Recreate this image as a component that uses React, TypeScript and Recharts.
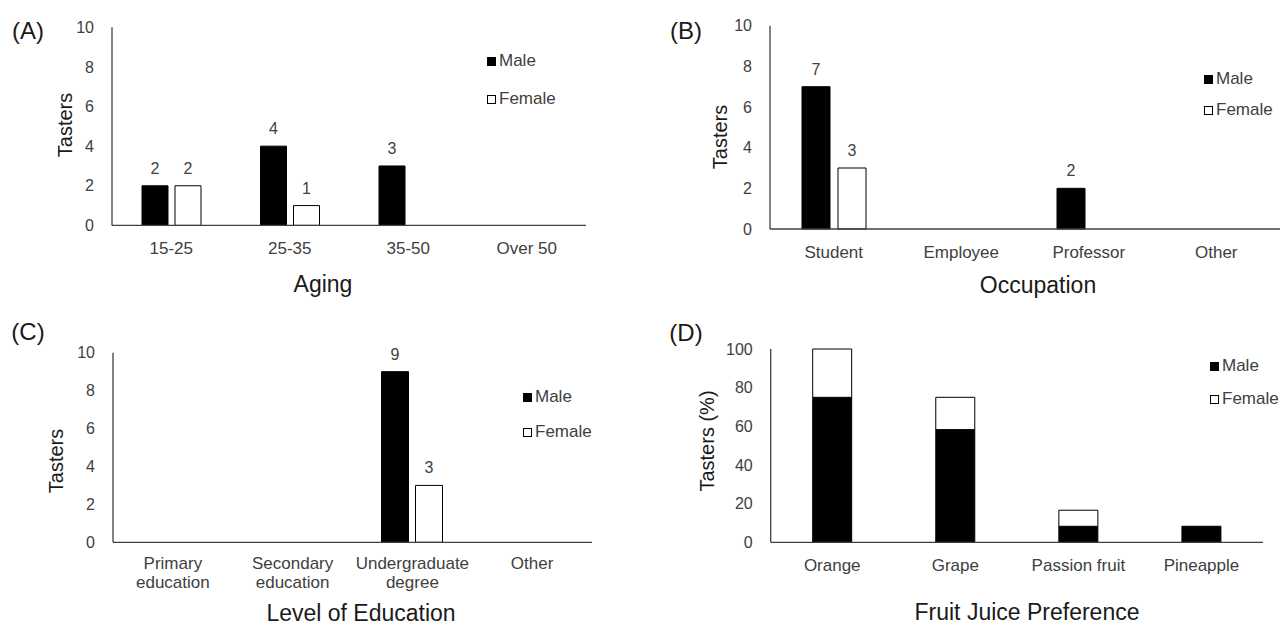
import { BarChart, Bar, XAxis, YAxis, LabelList, Legend } from "recharts";

// ---- data ----
const AGE_GROUPS = ["15-25", "25-35", "35-50", "Over 50"];
const AGE_MALE = [2, 4, 3, 0];
const AGE_FEMALE = [2, 1, 0, 0];

const OCCUPATIONS = ["Student", "Employee", "Professor", "Other"];
const OCC_MALE = [7, 0, 2, 0];
const OCC_FEMALE = [3, 0, 0, 0];

const EDUCATION = ["Primary education", "Secondary education", "Undergraduate degree", "Other"];
const EDU_MALE = [0, 0, 9, 0];
const EDU_FEMALE = [0, 0, 3, 0];

const JUICES = ["Orange", "Grape", "Passion fruit", "Pineapple"];
const JUICE_MALE = [75, 58.3, 8.3, 8.3];
const JUICE_FEMALE = [25, 16.7, 8.3, 0];

const COUNT_TICKS = [0, 2, 4, 6, 8, 10];
const PERCENT_TICKS = [0, 20, 40, 60, 80, 100];

const SERIES_ORDER = ["Male", "Female"];

const FONT = '"Liberation Sans", Arial, sans-serif';
const TICK = "#404040";
const INK = "#1a1a1a";
const AXIS = "#404040";

const toRows = (cats: string[], male: number[], female: number[]) =>
  cats.map((c, i) => ({ name: c, male: male[i], female: female[i] }));

const WrapTick = (props: any) => {
  const { x, y, payload, wrap } = props;
  const lines: string[] = wrap ? payload.value.split(" ") : [payload.value];
  return (
    <text x={x} y={y} textAnchor="middle" fontSize={17} fill={TICK}>
      {lines.map((l, i) => (
        <tspan key={i} x={x} dy={i === 0 ? "0.68em" : 19}>
          {l}
        </tspan>
      ))}
    </text>
  );
};

// value labels above bars, skipped for zero
const ValueLabel = (props: any) => {
  const { x, y, width, value } = props;
  if (!value) return null;
  return (
    <text x={x + width / 2} y={y - 12} textAnchor="middle" fontSize={16} fill={TICK}>
      {value}
    </text>
  );
};

const legendContent = (gap: number) => (props: any) => {
  const items = [...(props.payload || [])].sort(
    (a: any, b: any) => SERIES_ORDER.indexOf(a.value) - SERIES_ORDER.indexOf(b.value),
  );
  return (
    <div>
      {items.map((p: any, i: number) => (
        <div
          key={p.value}
          style={{ display: "flex", alignItems: "center", height: 18, marginTop: i ? gap - 18 : 0 }}
        >
          <span
            style={{
              width: 9,
              height: 9,
              boxSizing: "border-box",
              background: p.color,
              border: "1px solid #000",
              marginRight: 3,
            }}
          />
          <span style={{ fontSize: 17, color: TICK, lineHeight: "18px", whiteSpace: "nowrap" }}>
            {p.value}
          </span>
        </div>
      ))}
    </div>
  );
};

type PanelProps = {
  left: number;
  top: number;
  width: number;
  height: number;
  margin: { top: number; right: number; bottom: number; left: number };
  data: any[];
  ticks: number[];
  tickMargin: number;
  wrap?: boolean;
  stacked?: boolean;
  barSize: number;
  barGap?: number;
  legend: { left: number; top: number; gap: number };
};

function Panel(p: PanelProps) {
  return (
    <div style={{ position: "absolute", left: p.left, top: p.top }}>
      <BarChart width={p.width} height={p.height} data={p.data} margin={p.margin} barGap={p.barGap ?? 0}>
        <XAxis
          dataKey="name"
          interval={0}
          height={30}
          tickLine={false}
          tickSize={0}
          tickMargin={p.tickMargin}
          axisLine={{ stroke: AXIS, strokeWidth: 1.3 }}
          tick={<WrapTick wrap={p.wrap} />}
        />
        <YAxis
          width={40}
          domain={[p.ticks[0], p.ticks[p.ticks.length - 1]]}
          ticks={p.ticks}
          tickLine={false}
          tickSize={0}
          tickMargin={18}
          axisLine={{ stroke: AXIS, strokeWidth: 1.3 }}
          tick={{ fontSize: 16, fill: TICK }}
        />
        <Legend
          layout="horizontal"
          verticalAlign="middle"
          align="center"
          wrapperStyle={{ left: p.legend.left, top: p.legend.top, width: "auto" }}
          content={legendContent(p.legend.gap)}
        />
        <Bar
          dataKey="male"
          name="Male"
          fill="#000"
          stroke="#000"
          barSize={p.barSize}
          stackId={p.stacked ? "s" : undefined}
          isAnimationActive={false}
        >
          {!p.stacked && <LabelList dataKey="male" content={<ValueLabel />} />}
        </Bar>
        <Bar
          dataKey="female"
          name="Female"
          fill="#fff"
          stroke="#000"
          barSize={p.barSize}
          stackId={p.stacked ? "s" : undefined}
          isAnimationActive={false}
        >
          {!p.stacked && <LabelList dataKey="female" content={<ValueLabel />} />}
        </Bar>
      </BarChart>
    </div>
  );
}

const Txt = ({ x, y, size, rot, children }: any) => (
  <div
    style={{
      position: "absolute",
      left: x,
      top: y,
      fontSize: size,
      lineHeight: 1,
      color: INK,
      whiteSpace: "nowrap",
      transform: `translate(-50%, -50%)${rot ? " rotate(-90deg)" : ""}`,
    }}
  >
    {children}
  </div>
);

export default function App() {
  return (
    <div
      style={{
        position: "absolute",
        left: 0,
        top: 0,
        width: 1288,
        height: 627,
        overflow: "hidden",
        background: "#fff",
        fontFamily: FONT,
      }}
    >
      {/* (A) age */}
      <Panel
        left={0}
        top={0}
        width={640}
        height={310}
        margin={{ top: 27.3, right: 54, bottom: 54.6, left: 72 }}
        data={toRows(AGE_GROUPS, AGE_MALE, AGE_FEMALE)}
        ticks={COUNT_TICKS}
        tickMargin={17}
        barSize={26}
        barGap={7}
        legend={{ left: 487, top: 52, gap: 38 }}
      />
      {/* (B) occupation */}
      <Panel
        left={640}
        top={0}
        width={648}
        height={310}
        margin={{ top: 25.7, right: 8, bottom: 51, left: 90 }}
        data={toRows(OCCUPATIONS, OCC_MALE, OCC_FEMALE)}
        ticks={COUNT_TICKS}
        tickMargin={17}
        barSize={28}
        barGap={8}
        legend={{ left: 564, top: 70, gap: 31 }}
      />
      {/* (C) education */}
      <Panel
        left={0}
        top={310}
        width={640}
        height={317}
        margin={{ top: 42.7, right: 48, bottom: 54.7, left: 73 }}
        data={toRows(EDUCATION, EDU_MALE, EDU_FEMALE)}
        ticks={COUNT_TICKS}
        tickMargin={15}
        wrap
        barSize={27}
        barGap={7}
        legend={{ left: 523, top: 78, gap: 35 }}
      />
      {/* (D) juice preference, stacked % */}
      <Panel
        left={640}
        top={310}
        width={648}
        height={317}
        margin={{ top: 39, right: 25, bottom: 54.7, left: 90.7 }}
        data={toRows(JUICES, JUICE_MALE, JUICE_FEMALE)}
        ticks={PERCENT_TICKS}
        tickMargin={17}
        stacked
        barSize={39}
        legend={{ left: 570, top: 47, gap: 33 }}
      />

      <Txt x={28} y={31} size={24}>(A)</Txt>
      <Txt x={686} y={31} size={24}>(B)</Txt>
      <Txt x={28} y={332} size={24}>(C)</Txt>
      <Txt x={686} y={333} size={24}>(D)</Txt>

      <Txt x={65} y={125} size={20} rot>Tasters</Txt>
      <Txt x={720} y={137} size={20} rot>Tasters</Txt>
      <Txt x={56} y={461} size={20} rot>Tasters</Txt>
      <Txt x={707} y={441} size={20} rot>Tasters (%)</Txt>

      <Txt x={323} y={284} size={23}>Aging</Txt>
      <Txt x={1038} y={285} size={23}>Occupation</Txt>
      <Txt x={361} y={613} size={23}>Level of Education</Txt>
      <Txt x={1027} y={612} size={23}>Fruit Juice Preference</Txt>
    </div>
  );
}
